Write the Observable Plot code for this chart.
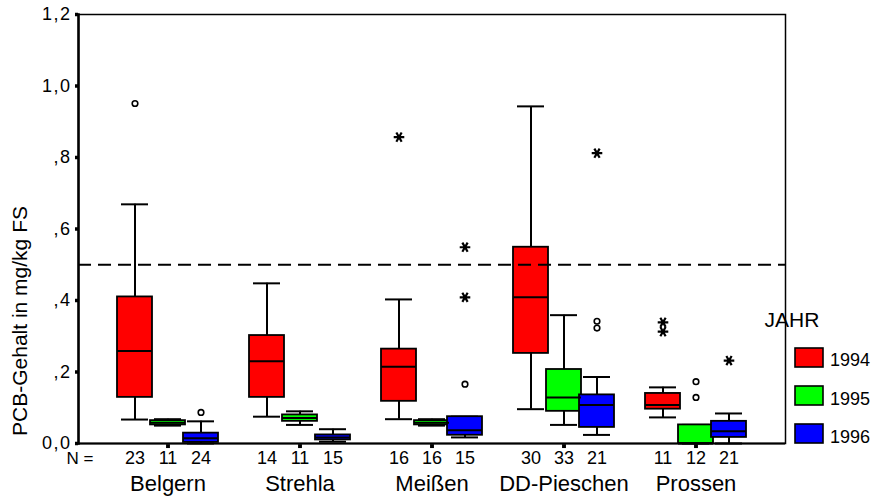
<!DOCTYPE html>
<html>
<head>
<meta charset="utf-8">
<script src="https://cdn.jsdelivr.net/npm/d3@7"></script>
<script src="https://cdn.jsdelivr.net/npm/@observablehq/plot@0.6"></script>
<style>
  html, body { margin: 0; padding: 0; background: #fff; }
  #chart { width: 891px; height: 498px; position: relative; }
  #chart g[aria-label="y-axis tick label"] text { letter-spacing: 1.5px; }
</style>
</head>
<body>
<div id="chart"></div>
<script>
// ---- data ----
const locations = ["Belgern", "Strehla", "Meißen", "DD-Pieschen", "Prossen"];
const years = ["1994", "1995", "1996"];
const yearColors = ["#ff0000", "#00ff00", "#0000ff"];
// order: location-major, year-minor
const nCounts     = [23, 11, 24,   14, 11, 15,   16, 16, 15,   30, 33, 21,   11, 12, 21];
const whiskerLow  = [0.067, 0.050, 0.000,  0.075, 0.052, 0.005,  0.068, 0.050, 0.017,  0.096, 0.052, 0.024,  0.073, 0.000, 0.000];
const quartile1   = [0.129, 0.052, 0.003,  0.129, 0.062, 0.010,  0.118, 0.052, 0.023,  0.252, 0.090, 0.045,  0.096, 0.000, 0.017];
const medians     = [0.259, 0.058, 0.015,  0.230, 0.071, 0.017,  0.215, 0.058, 0.037,  0.409, 0.129, 0.108,  0.108, 0.000, 0.034];
const quartile3   = [0.410, 0.064, 0.029,  0.302, 0.080, 0.024,  0.264, 0.064, 0.075,  0.549, 0.207, 0.136,  0.140, 0.052, 0.062];
const whiskerHigh = [0.669, 0.068, 0.062,  0.448, 0.090, 0.040,  0.403, 0.068, 0.075,  0.943, 0.359, 0.186,  0.157, 0.052, 0.084];

const outlierLocation = ["Belgern", "Belgern", "Meißen", "DD-Pieschen", "DD-Pieschen", "Prossen", "Prossen",
                         "Meißen", "Meißen", "Meißen", "DD-Pieschen", "Prossen", "Prossen", "Prossen"];
const outlierYear     = ["1994", "1996", "1996", "1996", "1996", "1995", "1995",
                         "1994", "1996", "1996", "1996", "1994", "1994", "1996"];
const outlierValue    = [0.951, 0.087, 0.166, 0.342, 0.323, 0.173, 0.129,
                         0.857, 0.549, 0.409, 0.812, 0.339, 0.313, 0.232];
const outlierKind     = ["circle", "circle", "circle", "circle", "circle", "circle", "circle",
                         "star", "star", "star", "star", "star", "star", "star"];

const yTicks = [0, 0.2, 0.4, 0.6, 0.8, 1.0, 1.2];
const referenceLevel = [0.5];
const yLabel = "PCB-Gehalt in mg/kg FS";
const nLabel = "N =";
const legendTitle = "JAHR";

// ---- derived tables ----
const keyOf = (loc, yr) => loc + "|" + yr;
const boxes = locations.flatMap((loc, i) => years.map((yr, j) => {
  const k = i * years.length + j;
  return {loc, year: yr, key: keyOf(loc, yr), n: nCounts[k],
          lo: whiskerLow[k], q1: quartile1[k], med: medians[k], q3: quartile3[k], hi: whiskerHigh[k]};
}));
const outliers = outlierValue.map((v, i) => ({key: keyOf(outlierLocation[i], outlierYear[i]), value: v, kind: outlierKind[i]}));
const xDomain = locations.flatMap((loc, i) => [
  ...years.map(yr => keyOf(loc, yr)),
  ...(i < locations.length - 1 ? ["gap" + i] : [])
]);
const centers = locations.map(loc => ({loc, key: keyOf(loc, years[1])}));

const fmt = d => {
  const s = d.toFixed(1).replace(".", ",");
  return (d > 0 && d < 1) ? s.replace(/^0/, "") : s;
};

const chart = Plot.plot({
  width: 891,
  height: 498,
  marginLeft: 78,
  marginRight: 106,
  marginTop: 14,
  marginBottom: 55,
  style: {fontFamily: "'Liberation Sans', Arial, sans-serif", fontSize: "17px", background: "#fff", color: "#000"},
  x: {type: "band", domain: xDomain, paddingInner: 0, paddingOuter: 1.2, axis: null},
  y: {domain: [0, 1.2], axis: null},
  color: {domain: years, range: yearColors},
  marks: [
    Plot.frame({stroke: "#000", strokeWidth: 1.5}),
    Plot.axisY(yTicks, {tickFormat: fmt, tickSize: 3, tickPadding: 4, fontSize: 18, strokeWidth: 3.5, label: null}),
    // whiskers
    Plot.ruleX(boxes, {x: "key", y1: "lo", y2: "q1", stroke: "#000", strokeWidth: 2}),
    Plot.ruleX(boxes, {x: "key", y1: "q3", y2: "hi", stroke: "#000", strokeWidth: 2}),
    Plot.tickY(boxes, {x: "key", y: "hi", stroke: "#000", strokeWidth: 2, insetLeft: 3, insetRight: 3}),
    Plot.tickY(boxes, {x: "key", y: "lo", stroke: "#000", strokeWidth: 2, insetLeft: 3, insetRight: 3}),
    // boxes
    Plot.barY(boxes, {x: "key", y1: "q1", y2: "q3", fill: "year", stroke: "#000", strokeWidth: 1.8, insetLeft: -1, insetRight: -1}),
    Plot.tickY(boxes, {x: "key", y: "med", stroke: "#000", strokeWidth: 2, insetLeft: -1, insetRight: -1}),
    // outliers
    Plot.dot(outliers.filter(d => d.kind === "circle"), {x: "key", y: "value", r: 2.8, stroke: "#000", strokeWidth: 1.6, fill: "#fff"}),
    Plot.dot(outliers.filter(d => d.kind === "star"), {x: "key", y: "value", symbol: "asterisk", r: 5, rotate: 90, stroke: "#000", strokeWidth: 2.2}),
    // reference line
    Plot.ruleY(referenceLevel, {stroke: "#000", strokeWidth: 2, strokeDasharray: "13,7"}),
    // axis lines
    Plot.ruleY([0], {stroke: "#000", strokeWidth: 2}),
    Plot.frame({anchor: "left", stroke: "#000", strokeWidth: 2.5}),
    // group ticks
    Plot.dot(centers, {x: "key", y: () => 0, symbol: "square", r: 2.2, fill: "#000", dy: 2.6}),
    // N labels
    Plot.text([nLabel], {frameAnchor: "bottom-left", textAnchor: "start", lineAnchor: "middle", dx: -12, dy: 15, fontSize: 17}),
    Plot.text(boxes, {x: "key", y: () => 0, text: d => String(d.n), dy: 15, fontSize: 18}),
    // group labels
    Plot.text(centers, {x: "key", y: () => 0, text: "loc", dy: 40, fontSize: 22})
  ]
});

// ---- y label & legend ----
const svg = d3.select(chart);
const ff = "'Liberation Sans', Arial, sans-serif";
svg.append("text")
  .attr("transform", "translate(20,321) rotate(-90)")
  .attr("text-anchor", "middle")
  .attr("dy", "0.35em")
  .attr("font-family", ff)
  .attr("font-size", 21)
  .attr("fill", "#000")
  .text(yLabel);

const lg = svg.append("g").attr("font-family", ff).attr("fill", "#000");
lg.append("text").attr("x", 792).attr("y", 327).attr("font-size", 21).text(legendTitle);
const swatchTop = [348, 386, 424];
const labelBase = [366, 405, 443];
years.forEach((yr, i) => {
  lg.append("rect").attr("x", 795).attr("y", swatchTop[i]).attr("width", 28).attr("height", 19)
    .attr("fill", yearColors[i]).attr("stroke", "#000").attr("stroke-width", 1.6);
  lg.append("text").attr("x", 850).attr("y", labelBase[i]).attr("font-size", 18).text(yr);
});

document.getElementById("chart").appendChild(chart);
</script>
</body>
</html>
